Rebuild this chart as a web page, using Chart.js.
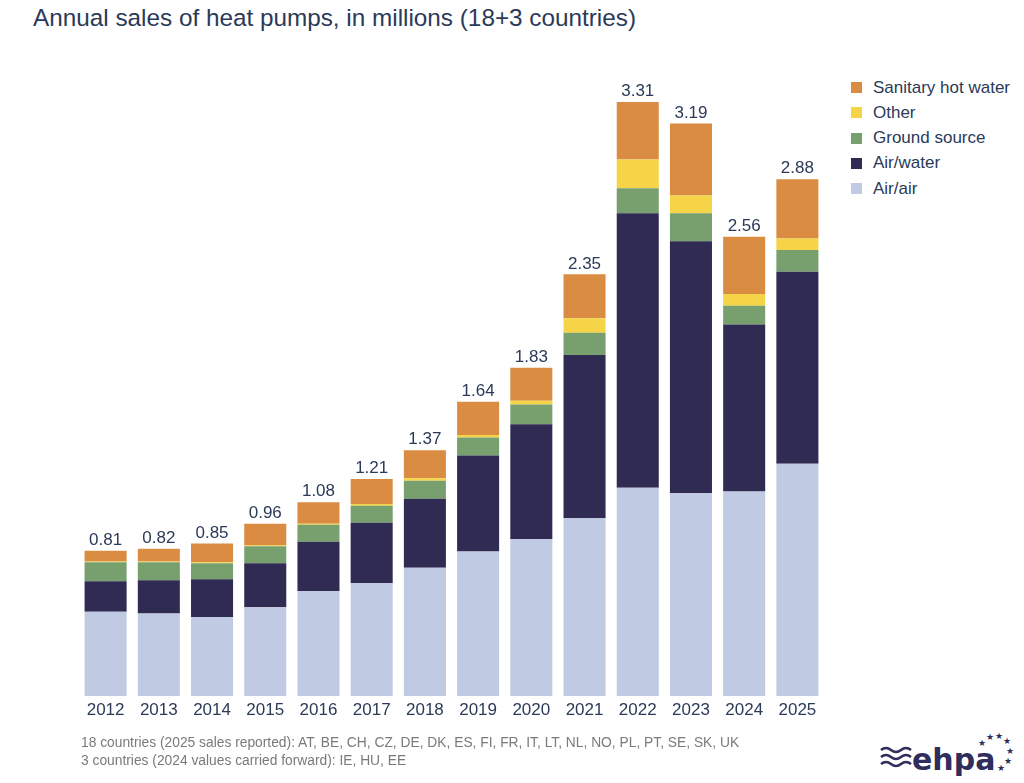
<!DOCTYPE html>
<html>
<head>
<meta charset="utf-8">
<script src="https://cdn.jsdelivr.net/npm/chart.js@4.4.1/dist/chart.umd.min.js"></script>
<style>
  body { margin: 0; background: #fff; font-family: 'Liberation Sans', Arial, sans-serif; }
  #wrap { position: relative; width: 1024px; height: 783px; overflow: hidden; }
  #title { position: absolute; left: 33px; top: 4px; font-size: 24.3px; color: #2b3a58; white-space: nowrap; }
  #chartBox { position: absolute; left: 0; top: 0; width: 840px; height: 783px; }
  #legend { position: absolute; left: 851px; top: 75px; }
  .item { height: 25.25px; display: flex; align-items: center; font-size: 17px; color: #2b3a58; }
  .box { width: 11px; height: 11px; margin-right: 11px; }
  #notes { position: absolute; left: 81px; top: 734px; font-size: 13.8px; color: #7a7a7a; line-height: 18px; }
  #logo { position: absolute; left: 878px; top: 728px; }
</style>
</head>
<body>
<div id="wrap">
  <div id="title">Annual sales of heat pumps, in millions (18+3 countries)</div>
  <div id="chartBox"><canvas id="barChart"></canvas></div>
  <div id="legend"></div>
  <div id="notes">18 countries (2025 sales reported): AT, BE, CH, CZ, DE, DK, ES, FI, FR, IT, LT, NL, NO, PL, PT, SE, SK, UK<br>3 countries (2024 values carried forward): IE, HU, EE</div>
  <svg id="logo" width="140" height="52" viewBox="0 0 140 52">
    <g fill="none" stroke="#2e2d5c" stroke-width="2.6">
      <path d="M3 22 q5 -4 10 0 t10 0 t10 0"/>
      <path d="M3 29 q5 -4 10 0 t10 0 t10 0"/>
      <path d="M3 36 q5 -4 10 0 t10 0 t10 0"/>
    </g>
    <text x="34" y="42" font-family="'DejaVu Sans', sans-serif" font-weight="bold" font-size="30" fill="#2e2d5c">ehpa</text>
    <g fill="#2e2d5c" font-size="9" font-family="'DejaVu Sans', sans-serif">
      <text x="100" y="18">★</text><text x="108" y="12">★</text><text x="117" y="11">★</text>
      <text x="125" y="16">★</text><text x="128" y="26">★</text><text x="126" y="36">★</text>
      <text x="119" y="43">★</text>
    </g>
  </svg>
</div>
<script>
var years = ['2012','2013','2014','2015','2016','2017','2018','2019','2020','2021','2022','2023','2024','2025'];

// values in millions, bottom to top of each stack
var airAir       = [0.47, 0.46, 0.44, 0.495, 0.585, 0.63, 0.715, 0.805, 0.875, 0.99, 1.16, 1.13, 1.14, 1.295];
var airWater     = [0.17, 0.185, 0.21, 0.245, 0.275, 0.335, 0.385, 0.535, 0.64, 0.91, 1.53, 1.405, 0.93, 1.07];
var groundSource = [0.105, 0.10, 0.09, 0.095, 0.095, 0.095, 0.10, 0.10, 0.11, 0.125, 0.14, 0.155, 0.105, 0.12];
var other        = [0.005, 0.005, 0.005, 0.005, 0.005, 0.01, 0.013, 0.015, 0.02, 0.08, 0.16, 0.10, 0.065, 0.065];
var hotWater     = [0.06, 0.07, 0.105, 0.12, 0.12, 0.14, 0.157, 0.185, 0.185, 0.245, 0.32, 0.40, 0.32, 0.33];

var totals = ['0.81','0.82','0.85','0.96','1.08','1.21','1.37','1.64','1.83','2.35','3.31','3.19','2.56','2.88'];

var textColor = '#2b3a58';

var totalLabels = {
    id: 'totalLabels',
    afterDatasetsDraw: function(chart) {
        var ctx = chart.ctx;
        var meta = chart.getDatasetMeta(chart.data.datasets.length - 1);
        ctx.save();
        ctx.font = "17px 'Liberation Sans', Arial, sans-serif";
        ctx.fillStyle = textColor;
        ctx.textAlign = 'center';
        ctx.textBaseline = 'bottom';
        meta.data.forEach(function(bar, i) {
            ctx.fillText(totals[i], bar.x, bar.y - 2);
        });
        ctx.restore();
    }
};

var ctx = document.getElementById('barChart').getContext('2d');
var barChart = new Chart(ctx, {
    type: 'bar',
    data: {
        labels: years,
        datasets: [
            { label: 'Air/air', data: airAir, backgroundColor: '#c0cae3' },
            { label: 'Air/water', data: airWater, backgroundColor: '#2f2b52' },
            { label: 'Ground source', data: groundSource, backgroundColor: '#789f6e' },
            { label: 'Other', data: other, backgroundColor: '#f6d448' },
            { label: 'Sanitary hot water', data: hotWater, backgroundColor: '#da8d42' }
        ]
    },
    options: {
        responsive: true,
        maintainAspectRatio: false,
        animation: false,
        layout: { padding: { left: 79, right: 16, top: 68, bottom: 57 } },
        datasets: { bar: { categoryPercentage: 1, barPercentage: 0.79, borderWidth: 0 } },
        plugins: {
            legend: { display: false },
            tooltip: { enabled: false }
        },
        scales: {
            x: {
                stacked: true,
                grid: { display: false, drawTicks: false },
                border: { display: false },
                ticks: {
                    padding: 4,
                    color: textColor,
                    font: { family: "'Liberation Sans', Arial, sans-serif", size: 17 }
                },
                afterFit: function(scale) { scale.height = 30; }
            },
            y: {
                stacked: true,
                display: false,
                min: 0,
                max: 3.5
            }
        }
    },
    plugins: [totalLabels]
});

// legend, top item first
var legend = document.getElementById('legend');
barChart.data.datasets.slice().reverse().forEach(function(ds) {
    var row = document.createElement('div');
    row.className = 'item';
    row.innerHTML = '<span class="box" style="background:' + ds.backgroundColor + '"></span>' + ds.label;
    legend.appendChild(row);
});
</script>
</body>
</html>
